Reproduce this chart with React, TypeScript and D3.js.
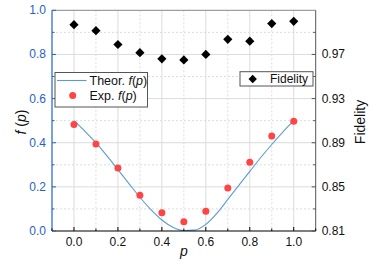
import React from "react";
import * as d3 from "d3";

const pValues = [0, 0.1, 0.2, 0.3, 0.4, 0.5, 0.6, 0.7, 0.8, 0.9, 1.0];
const expF = [0.483, 0.394, 0.285, 0.162, 0.083, 0.042, 0.089, 0.195, 0.311, 0.43, 0.497];
const fidelity = [0.997, 0.9915, 0.979, 0.9716, 0.966, 0.965, 0.97, 0.9837, 0.982, 0.998, 1.0];

const theoryP = [0, 0.05, 0.1, 0.15, 0.2, 0.25, 0.3, 0.35, 0.4, 0.45, 0.5, 0.55, 0.6, 0.65, 0.7, 0.75, 0.8, 0.85, 0.9, 0.95, 1.0];
const theoryF = [0.5, 0.452, 0.4, 0.34, 0.278, 0.215, 0.153, 0.097, 0.05, 0.017, 0.002, 0.004, 0.03, 0.08, 0.143, 0.207, 0.27, 0.333, 0.392, 0.448, 0.5];

const xTicks = [0, 0.2, 0.4, 0.6, 0.8, 1.0];
const xMinor = [-0.1, 0.1, 0.3, 0.5, 0.7, 0.9, 1.1];
const yTicks = [0, 0.2, 0.4, 0.6, 0.8, 1.0];
const yMinor = [0.1, 0.3, 0.5, 0.7, 0.9];
const rTicks = [0.81, 0.85, 0.89, 0.93, 0.97];
const rMinor = [0.83, 0.87, 0.91, 0.95, 0.99];

const W = 374, H = 263;
const L = 52, R = 315.7, T = 10.3, B = 231;
const FONT = "'Liberation Sans', Arial, sans-serif";
const BLUE = "#1f63c6";
const LINE = "#5b9bd5";
const RED = "#ff4444";

export default function App() {
  const x = d3.scaleLinear().domain([-0.1, 1.1]).range([L, R]);
  const y = d3.scaleLinear().domain([0, 1]).range([B, T]);
  const yr = d3.scaleLinear().domain([0.81, 1.01]).range([B, T]);
  const line = d3
    .line<number>()
    .x((_, i) => x(theoryP[i]))
    .y((d) => y(d))
    .curve(d3.curveMonotoneX);

  const diamond = (cx: number, cy: number, s = 4.6) =>
    `M${cx},${cy - s}L${cx + s},${cy}L${cx},${cy + s}L${cx - s},${cy}Z`;

  return (
    <svg width={W} height={H} style={{ position: "absolute", left: 0, top: 0 }} fontFamily={FONT}>
      <rect width={W} height={H} fill="#fff" />
      {/* grid */}
      {xTicks.map((t) => (
        <line key={"gx" + t} x1={x(t)} x2={x(t)} y1={T} y2={B} stroke="#dcdcdc" strokeWidth={1} />
      ))}
      {xMinor.slice(1, -1).map((t) => (
        <line key={"gxm" + t} x1={x(t)} x2={x(t)} y1={T} y2={B} stroke="#dcdcdc" strokeWidth={1} strokeDasharray="2,2" />
      ))}
      {yTicks.slice(1, -1).map((t) => (
        <line key={"gy" + t} x1={L} x2={R} y1={y(t)} y2={y(t)} stroke="#dcdcdc" strokeWidth={1} />
      ))}
      {yMinor.map((t) => (
        <line key={"gym" + t} x1={L} x2={R} y1={y(t)} y2={y(t)} stroke="#dcdcdc" strokeWidth={1} strokeDasharray="2,2" />
      ))}

      {/* theory curve */}
      <path d={line(theoryF) || ""} fill="none" stroke={LINE} strokeWidth={1.1} />
      {/* exp points */}
      {expF.map((v, i) => (
        <circle key={"e" + i} cx={x(pValues[i])} cy={y(v)} r={3.5} fill={RED} />
      ))}
      {/* fidelity */}
      {fidelity.map((v, i) => (
        <path key={"f" + i} d={diamond(x(pValues[i]), yr(v))} fill="#000" />
      ))}

      {/* frame */}
      <line x1={L} x2={R} y1={T} y2={T} stroke="#888" strokeWidth={1} />
      <line x1={R} x2={R} y1={T} y2={B} stroke="#555" strokeWidth={1} />
      <line x1={L} x2={R} y1={B} y2={B} stroke="#000" strokeWidth={1.2} />
      <line x1={L} x2={L} y1={T} y2={B} stroke={BLUE} strokeWidth={1.2} />

      {/* x ticks */}
      {xTicks.map((t) => (
        <g key={"xt" + t}>
          <line x1={x(t)} x2={x(t)} y1={B} y2={B - 4} stroke="#000" />
          <text x={x(t)} y={B + 15} fontSize={12} textAnchor="middle" fill="#111">
            {t.toFixed(1)}
          </text>
        </g>
      ))}
      {xMinor.map((t) => (
        <line key={"xm" + t} x1={x(t)} x2={x(t)} y1={B} y2={B - 2.5} stroke="#000" />
      ))}
      {/* left y ticks */}
      {yTicks.map((t) => (
        <g key={"yt" + t}>
          <line x1={L} x2={L + 4} y1={y(t)} y2={y(t)} stroke={BLUE} />
          <text x={L - 6} y={y(t) + 4} fontSize={12} textAnchor="end" fill={BLUE}>
            {t.toFixed(1)}
          </text>
        </g>
      ))}
      {yMinor.map((t) => (
        <line key={"ym" + t} x1={L} x2={L + 2.5} y1={y(t)} y2={y(t)} stroke={BLUE} />
      ))}
      {/* right ticks */}
      {rTicks.map((t) => (
        <g key={"rt" + t}>
          <line x1={R} x2={R - 4} y1={yr(t)} y2={yr(t)} stroke="#555" />
          <text x={R + 6} y={yr(t) + 4} fontSize={12} textAnchor="start" fill="#111">
            {t.toFixed(2)}
          </text>
        </g>
      ))}
      {rMinor.map((t) => (
        <line key={"rm" + t} x1={R} x2={R - 2.5} y1={yr(t)} y2={yr(t)} stroke="#555" />
      ))}

      {/* axis labels */}
      <text x={(L + R) / 2} y={B + 24.5} fontSize={14} textAnchor="middle" fontStyle="italic" fill="#111">
        p
      </text>
      <text transform={`translate(26,122) rotate(-90)`} fontSize={14} textAnchor="middle" fill="#111">
        <tspan fontStyle="italic">f</tspan> (<tspan fontStyle="italic">p</tspan>)
      </text>
      <text transform={`translate(365,122) rotate(-90)`} fontSize={14} textAnchor="middle" fill="#111">
        Fidelity
      </text>

      {/* left legend */}
      <rect x={55} y={72.5} width={92.5} height={34.5} fill="#fff" stroke="#555" strokeWidth={1} />
      <line x1={57} x2={86.5} y1={80.5} y2={80.5} stroke={LINE} strokeWidth={1.1} />
      <text x={89.5} y={85} fontSize={12.5} fill="#111">
        Theor. <tspan fontStyle="italic">f</tspan>(<tspan fontStyle="italic">p</tspan>)
      </text>
      <circle cx={72.7} cy={95.5} r={3.5} fill={RED} />
      <text x={89.5} y={100} fontSize={12.5} fill="#111">
        Exp. <tspan fontStyle="italic">f</tspan>(<tspan fontStyle="italic">p</tspan>)
      </text>

      {/* right legend */}
      <rect x={240} y={71.7} width={73} height={14.3} fill="#fff" stroke="#555" strokeWidth={1} />
      <path d={diamond(252.7, 79, 4.2)} fill="#000" />
      <text x={270} y={83.3} fontSize={12} fill="#111">
        Fidelity
      </text>
    </svg>
  );
}
